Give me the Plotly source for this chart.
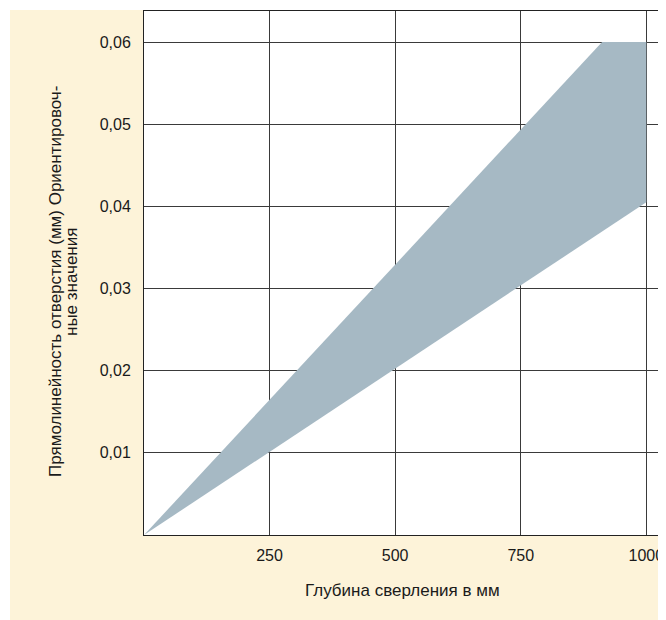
import plotly.graph_objects as go

# Band of approximate hole straightness vs drilling depth
band_depth = [0, 912, 1000, 1000, 0]
band_straightness = [0, 0.06, 0.06, 0.0405, 0]

x_tick_vals = [250, 500, 750, 1000]
x_tick_text = ["250", "500", "750", "1000"]
y_tick_vals = [0.01, 0.02, 0.03, 0.04, 0.05, 0.06]
y_tick_text = ["0,01", "0,02", "0,03", "0,04", "0,05", "0,06"]

x_title = "Глубина сверления в мм"
y_title_lines = ["Прямолинейность отверстия (мм) Ориентировоч-", "ные значения"]

FONT = "Liberation Sans, Arial, Helvetica, sans-serif"
CREAM = "#fdf3d9"
TXT = "#1a1a1a"

W, H = 658, 612
L, R, T, B = 136, 0, 3, 85
pw, ph = W - L - R, H - T - B
OFF = 8  # page body offset


def px_x(screen_x):
    return (screen_x - OFF - L) / pw


def px_y(screen_y):
    return (H - B - (screen_y - OFF)) / ph


fig = go.Figure()
fig.add_trace(go.Scatter(
    x=band_depth, y=band_straightness, mode="lines", fill="toself",
    fillcolor="#a6b9c4", line=dict(width=0, color="#a6b9c4"),
    hoverinfo="skip", showlegend=False,
))

fig.update_layout(
    width=W, height=H,
    margin=dict(l=L, r=R, t=T, b=B, pad=0),
    paper_bgcolor="white", plot_bgcolor="white",
    font=dict(family=FONT, size=16, color=TXT),
    showlegend=False,
    shapes=[
        dict(type="rect", xref="paper", yref="paper", layer="below",
             x0=px_x(10), x1=1.2, y0=-0.3, y1=px_y(10),
             fillcolor=CREAM, line=dict(width=0)),
        dict(type="rect", xref="paper", yref="paper", layer="below",
             x0=0, x1=1, y0=0, y1=1,
             fillcolor="white", line=dict(width=0)),
    ],
    annotations=[
        dict(text=y_title_lines[0], xref="paper", yref="paper",
             x=px_x(55), y=px_y(282), xanchor="center", yanchor="middle",
             textangle=-90, showarrow=False, font=dict(size=17, color=TXT)),
        dict(text=y_title_lines[1], xref="paper", yref="paper",
             x=px_x(71), y=px_y(282), xanchor="center", yanchor="middle",
             textangle=-90, showarrow=False, font=dict(size=17, color=TXT)),
        dict(text=x_title, xref="paper", yref="paper",
             x=px_x(402), y=px_y(590), xanchor="center", yanchor="middle",
             showarrow=False, font=dict(size=17, color=TXT)),
    ],
)

fig.update_xaxes(
    range=[0, (W - L) / 0.5023], tickvals=x_tick_vals, ticktext=x_tick_text,
    showgrid=True, gridcolor="#3a3a3a", gridwidth=1,
    showline=True, linecolor="#222222", linewidth=1, mirror=True,
    ticks="outside", ticklen=6, tickcolor="rgba(0,0,0,0)",
    zeroline=False,
)
fig.update_yaxes(
    range=[0, 0.06 + 31 * 0.06 / 493], tickvals=y_tick_vals, ticktext=y_tick_text,
    showgrid=True, gridcolor="#3a3a3a", gridwidth=1,
    showline=True, linecolor="#222222", linewidth=1,
    ticks="outside", ticklen=9, tickcolor="rgba(0,0,0,0)",
    zeroline=False,
)

fig.write_html("out.html")
